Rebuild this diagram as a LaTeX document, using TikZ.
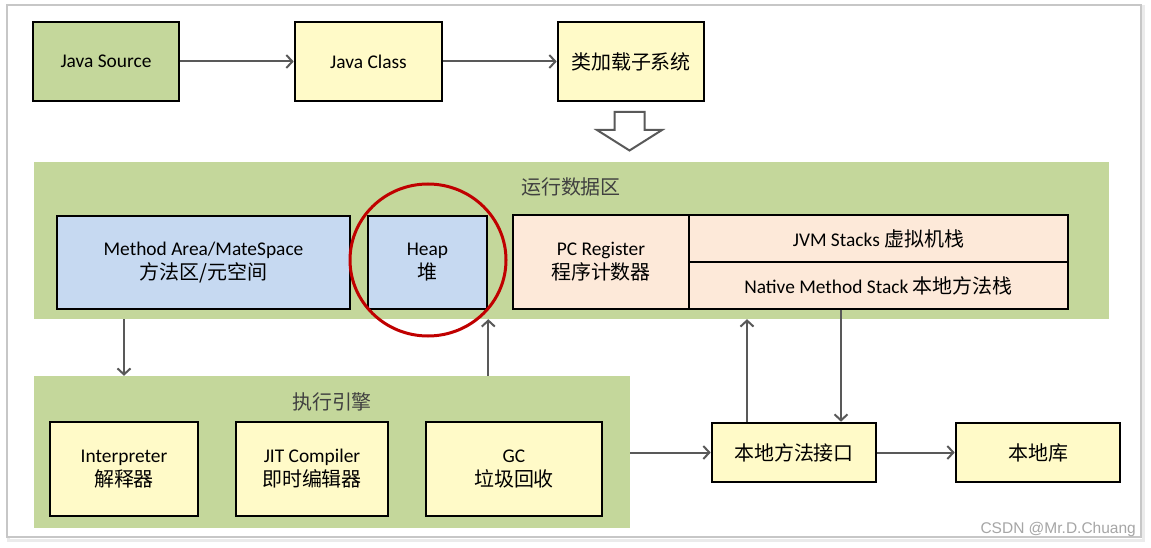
\documentclass[tikz,border=0pt]{standalone}
\usepackage{fontspec}
\setmainfont{Carlito}
\newfontfamily\cjkfont[Scale=1.03]{Noto Sans CJK SC}
\newfontfamily\wmfont{Liberation Sans}
\usetikzlibrary{arrows.meta}
\newcommand\zhtxt[1]{{\cjkfont #1}}
\definecolor{cgreen}{HTML}{C4D79B}
\definecolor{cyellow}{HTML}{FFFAC8}
\definecolor{cblue}{HTML}{C6D9F1}
\definecolor{cpeach}{HTML}{FDE9D9}
\definecolor{cred}{HTML}{C00000}
\definecolor{carrow}{HTML}{595959}
\definecolor{ctitle}{HTML}{404040}
\tikzset{
  box/.style={draw=black, line width=2.6pt, rectangle, align=center, inner sep=0pt,
    font=\fontsize{19.4}{24}\selectfont, text=black},
  region/.style={fill=cgreen, draw=none, rectangle, inner sep=0pt},
  regiontitle/.style={font=\fontsize{19.4}{24}\selectfont, text=ctitle, inner sep=0pt},
  arr/.style={draw=carrow, line width=2pt, -{Straight Barb[length=6pt,width=13pt,line width=2pt]}},
}
\begin{document}
\begin{tikzpicture}[x=1pt,y=-1pt]
\useasboundingbox (0,0) rectangle (1151,548);
\fill[white] (0,0) rectangle (1151,548);
\draw[black!8, line width=3pt] (8,7) rectangle (1143,540);
\draw[black!22, line width=1.2pt, fill=white] (7,5) rectangle (1141,537);

% top row
\node[box, fill=cgreen, minimum width=146, minimum height=79] (jsrc) at (106,61.5) {Java Source};
\node[box, fill=cyellow, minimum width=147, minimum height=79] (jcls) at (368.5,61.5) {Java Class};
\node[box, fill=cyellow, minimum width=146, minimum height=79] (cls) at (631,61.5) {\zhtxt{类加载子系统}};
\draw[arr] (jsrc.east) -- (jcls.west);
\draw[arr] (jcls.east) -- (cls.west);

% hollow arrow
\draw[carrow, line width=2pt, fill=white, line join=miter]
  (614.5,112) -- (644.5,112) -- (644.5,130) -- (662,130) -- (629.5,150.5) -- (597,130) -- (614.5,130) -- cycle;

% runtime data area
\node[region, minimum width=1075, minimum height=157] (rt) at (571.5,240.5) {};
\node[regiontitle] (rttitle) at (571,187) {\zhtxt{运行数据区}};
\node[box, fill=cblue, minimum width=293, minimum height=93] (ma) at (203.5,262.5) {Method Area/MateSpace\\\zhtxt{方法区/元空间}};
\node[box, fill=cblue, minimum width=119, minimum height=93] (heap) at (427.5,262.5) {Heap\\\zhtxt{堆}};
\node[box, fill=cpeach, minimum width=176, minimum height=94] (pc) at (601,262) {PC Register\\\zhtxt{程序计数器}};
\node[box, fill=cpeach, minimum width=379, minimum height=47] (jvms) at (878.5,238.5) {JVM Stacks \zhtxt{虚拟机栈}};
\node[box, fill=cpeach, minimum width=379, minimum height=47] (nms) at (878.5,285.5) {Native Method Stack \zhtxt{本地方法栈}};
\draw[cred, line width=3pt] (428,260) ellipse [x radius=78, y radius=76];

% execution engine
\node[region, minimum width=596, minimum height=152] (ee) at (332,452) {};
\node[regiontitle] (eetitle) at (332,402) {\zhtxt{执行引擎}};
\node[box, fill=cyellow, minimum width=148, minimum height=94] (interp) at (124,469) {Interpreter\\\zhtxt{解释器}};
\node[box, fill=cyellow, minimum width=152, minimum height=94] (jit) at (312,469) {JIT Compiler\\\zhtxt{即时编辑器}};
\node[box, fill=cyellow, minimum width=176, minimum height=94] (gc) at (514,469) {GC\\\zhtxt{垃圾回收}};

% native
\node[box, fill=cyellow, minimum width=164, minimum height=59] (nmi) at (794,452.5) {\zhtxt{本地方法接口}};
\node[box, fill=cyellow, minimum width=164, minimum height=59] (lib) at (1038,452.5) {\zhtxt{本地库}};

% connectors
\coordinate (mx) at (124,0);
\coordinate (upx) at (747,0);
\coordinate (dnx) at (841,0);
\draw[arr] (rt.south -| mx) -- (ee.north -| mx);
\draw[arr] (ee.north -| heap.east) -- (rt.south -| heap.east);
\draw[arr] (ee.east |- nmi.west) -- (nmi.west);
\draw[arr] (nmi.north -| upx) -- (rt.south -| upx);
\draw[arr] (nms.south -| dnx) -- (nmi.north -| dnx);
\draw[arr] (nmi.east) -- (lib.west);

% watermark
\node[anchor=east, font=\wmfont\fontsize{15.5}{18}\selectfont, text=black!35, inner sep=0pt] (wm) at (1136,529) {CSDN @Mr.D.Chuang};
\end{tikzpicture}
\end{document}
